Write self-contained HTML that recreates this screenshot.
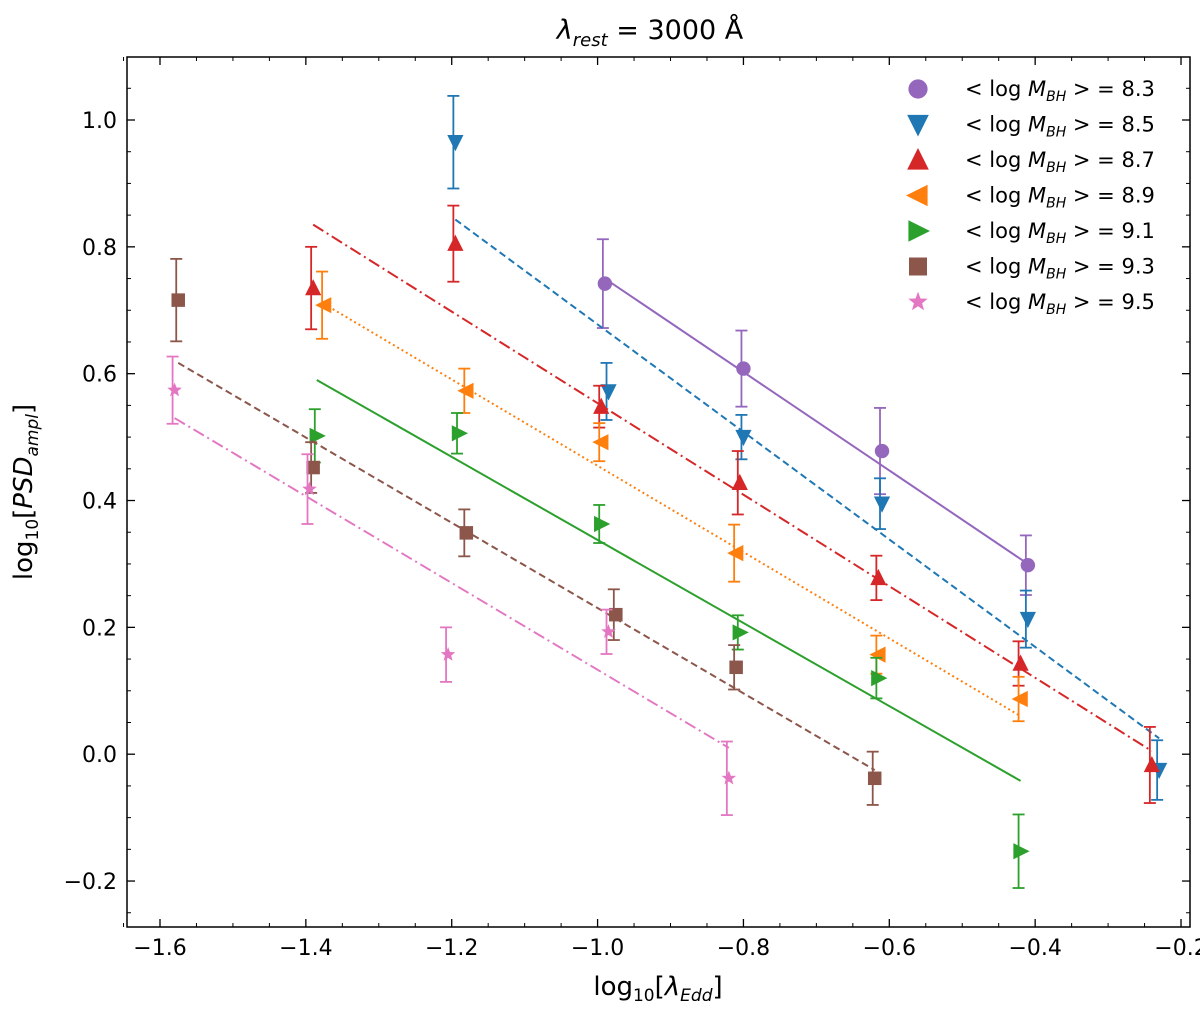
<!DOCTYPE html>
<html><head><meta charset="utf-8"><style>
body{margin:0;background:#fff}
svg text{font-family:"DejaVu Sans","Liberation Sans",sans-serif;fill:#000}
</style></head><body>
<svg id="chart" width="1200" height="1011" xmlns="http://www.w3.org/2000/svg">
<rect width="1200" height="1011" fill="#fff"/>
<g id="grid"></g>
<g id="series"></g>
<rect x="127" y="57" width="1063" height="870" fill="none" stroke="#000" stroke-width="1.5"/>
<text x="650" y="39" font-size="27" text-anchor="middle"><tspan font-style="italic">λ</tspan><tspan font-size="18" dy="7" font-style="italic">rest</tspan><tspan dy="-7"> =  3000 Å</tspan></text>
<text x="658" y="995" font-size="26" text-anchor="middle">log<tspan font-size="17" dy="6">10</tspan><tspan dy="-6">[</tspan><tspan font-style="italic">λ</tspan><tspan font-size="17" dy="6" font-style="italic">Edd</tspan><tspan dy="-6">]</tspan></text>
<text transform="translate(32,492) rotate(-90)" font-size="26" text-anchor="middle">log<tspan font-size="17" dy="6">10</tspan><tspan dy="-6">[</tspan><tspan font-style="italic">PSD</tspan><tspan font-size="17" dy="6" font-style="italic">ampl</tspan><tspan dy="-6">]</tspan></text>
<g id="legend"></g>
</svg>
<script>
const xTicks=[-1.6,-1.4,-1.2,-1.0,-0.8,-0.6,-0.4,-0.2];
const yTicks=[-0.2,0.0,0.2,0.4,0.6,0.8,1.0];
const seriesNames=["8.3","8.5","8.7","8.9","9.1","9.3","9.5"];
const seriesColors=["#9467bd","#1f77b4","#d62728","#ff7f0e","#2ca02c","#8c564b","#e377c2"];
const seriesMarkers=["circle","down","up","left","right","square","star"];
const seriesDash=["","7,4","12,4,2,4","2,3","","7,4","12,4,2,4"];
const x83=[-0.99,-0.80,-0.61,-0.41], y83=[0.742,0.608,0.478,0.298], e83=[0.07,0.06,0.068,0.047];
const x85=[-1.195,-0.985,-0.80,-0.61,-0.41,-0.23], y85=[0.965,0.572,0.50,0.395,0.213,-0.025], e85=[0.073,0.045,0.035,0.04,0.045,0.047];
const x87=[-1.39,-1.195,-0.995,-0.805,-0.615,-0.42,-0.24], y87=[0.735,0.805,0.548,0.428,0.278,0.143,-0.017], e87=[0.065,0.06,0.033,0.05,0.035,0.035,0.06];
const x89=[-1.375,-1.18,-0.995,-0.81,-0.615,-0.42], y89=[0.708,0.573,0.492,0.317,0.157,0.087], e89=[0.053,0.035,0.03,0.045,0.03,0.035];
const x91=[-1.385,-1.19,-0.995,-0.805,-0.615,-0.42], y91=[0.502,0.506,0.363,0.192,0.12,-0.153], e91=[0.042,0.032,0.03,0.027,0.032,0.058];
const x93=[-1.575,-1.39,-1.18,-0.975,-0.81,-0.62], y93=[0.716,0.452,0.349,0.22,0.137,-0.038], e93=[0.065,0.04,0.037,0.04,0.035,0.042];
const x95=[-1.58,-1.395,-1.205,-0.985,-0.82], y95=[0.574,0.418,0.157,0.193,-0.038], e95=[0.053,0.055,0.043,0.035,0.058];
const fitX0=[-0.99,-1.195,-1.39,-1.375,-1.385,-1.575,-1.58];
const fitY0=[0.75,0.843,0.835,0.71,0.59,0.617,0.53];
const fitX1=[-0.41,-0.23,-0.24,-0.42,-0.42,-0.62,-0.82];
const fitY1=[0.30,0.025,0.005,0.06,-0.042,-0.025,0.01];
const allX=[x83,x85,x87,x89,x91,x93,x95], allY=[y83,y85,y87,y89,y91,y93,y95], allE=[e83,e85,e87,e89,e91,e93,e95];

const X=v=>160+(v+1.6)*729.3;
const Y=v=>120+(1.0-v)*634.2;
const NS="http://www.w3.org/2000/svg";
function mk(tag,attrs,parent){const e=document.createElementNS(NS,tag);for(const k in attrs)e.setAttribute(k,attrs[k]);parent.appendChild(e);return e;}
const grid=document.getElementById('grid');
for(const t of xTicks){
  const g=mk('g',{},grid);
  
  
  mk('line',{x1:X(t),x2:X(t),y1:927,y2:919,stroke:'#000','stroke-width':1.3},g);
  mk('line',{x1:X(t),x2:X(t),y1:57,y2:65,stroke:'#000','stroke-width':1.3},g);
  const tx=mk('text',{x:X(t),y:955,'font-size':22,'text-anchor':'middle'},g);
  tx.textContent=(t<0?'\u2212':'')+Math.abs(t).toFixed(1);
}
for(let v=-1.65;v<=-0.18;v+=0.05){const r=Math.round(v*100)/100;if(Math.abs(r*10-Math.round(r*10))<1e-6&&Math.round(r*10)%2===0)continue;
  mk('line',{x1:X(r),x2:X(r),y1:927,y2:923,stroke:'#000'},grid);mk('line',{x1:X(r),x2:X(r),y1:57,y2:61,stroke:'#000'},grid);}
for(const t of yTicks){
  const g=mk('g',{},grid);
  
  
  mk('line',{x1:127,x2:135,y1:Y(t),y2:Y(t),stroke:'#000','stroke-width':1.3},g);
  mk('line',{x1:1190,x2:1182,y1:Y(t),y2:Y(t),stroke:'#000','stroke-width':1.3},g);
  const tx=mk('text',{x:117,y:Y(t)+8,'font-size':22,'text-anchor':'end'},g);
  tx.textContent=(t<0?'\u2212':'')+Math.abs(t).toFixed(1);
}
for(let v=-0.25;v<=1.09;v+=0.05){const r=Math.round(v*100)/100;if(Math.abs(r*10-Math.round(r*10))<1e-6&&Math.round(r*10)%2===0)continue;
  mk('line',{x1:127,x2:131,y1:Y(r),y2:Y(r),stroke:'#000'},grid);mk('line',{x1:1190,x2:1186,y1:Y(r),y2:Y(r),stroke:'#000'},grid);}

function marker(type,cx,cy,col,parent,s){
  s=s||10;let el;
  if(type==='circle')el=mk('circle',{cx,cy,r:s*0.8,fill:col},parent);
  else if(type==='square')el=mk('rect',{x:cx-s*0.75,y:cy-s*0.75,width:s*1.5,height:s*1.5,fill:col},parent);
  else if(type==='star'){let p=[];for(let i=0;i<10;i++){const a=-Math.PI/2+i*Math.PI/5,r=i%2?s*0.36:s*0.85;p.push((cx+r*Math.cos(a)).toFixed(1)+','+(cy+r*Math.sin(a)).toFixed(1));}el=mk('polygon',{points:p.join(' '),fill:col},parent);}
  else{const d={up:[0,-1],down:[0,1],left:[-1,0],right:[1,0]}[type];const px=-d[1],py=d[0];
    const pts=[[cx+d[0]*s,cy+d[1]*s],[cx-d[0]*s*0.8+px*s*0.9,cy-d[1]*s*0.8+py*s*0.9],[cx-d[0]*s*0.8-px*s*0.9,cy-d[1]*s*0.8-py*s*0.9]];
    el=mk('polygon',{points:pts.map(p=>p.join(',')).join(' '),fill:col},parent);}
  return el;
}
const ser=document.getElementById('series');
for(let i=0;i<7;i++){
  const g=mk('g',{},ser);
  
  
  const col=seriesColors[i];
  const ln=mk('line',{x1:X(fitX0[i]),y1:Y(fitY0[i]),x2:X(fitX1[i]),y2:Y(fitY1[i]),stroke:col,'stroke-width':2},g);
  
  
  if(seriesDash[i])ln.setAttribute('stroke-dasharray',seriesDash[i]);
  for(let j=0;j<allX[i].length;j++){
    const cx=X(allX[i][j]),cy=Y(allY[i][j]),e=allE[i][j];
    const ex=cx-2;
    mk('line',{x1:ex,x2:ex,y1:Y(allY[i][j]+e),y2:Y(allY[i][j]-e),stroke:col,'stroke-width':1.8},g);
    mk('line',{x1:ex-6,x2:ex+6,y1:Y(allY[i][j]+e),y2:Y(allY[i][j]+e),stroke:col,'stroke-width':1.8},g);
    mk('line',{x1:ex-6,x2:ex+6,y1:Y(allY[i][j]-e),y2:Y(allY[i][j]-e),stroke:col,'stroke-width':1.8},g);
    const m=marker(seriesMarkers[i],cx,cy,col,g,9);
    
    
  }
}
const leg=document.getElementById('legend');
for(let i=0;i<7;i++){
  const g=mk('g',{},leg);
  
  
  const yy=89+i*35.5;
  marker(seriesMarkers[i],918,yy,seriesColors[i],g,12);
  const t=mk('text',{x:965,y:yy+7,'font-size':21},g);
  t.innerHTML='&lt; log <tspan font-style="italic">M</tspan><tspan font-size="14" dy="5" font-style="italic">BH</tspan><tspan dy="-5"> &gt; = '+seriesNames[i]+'</tspan>';
}
</script>
</body></html>
